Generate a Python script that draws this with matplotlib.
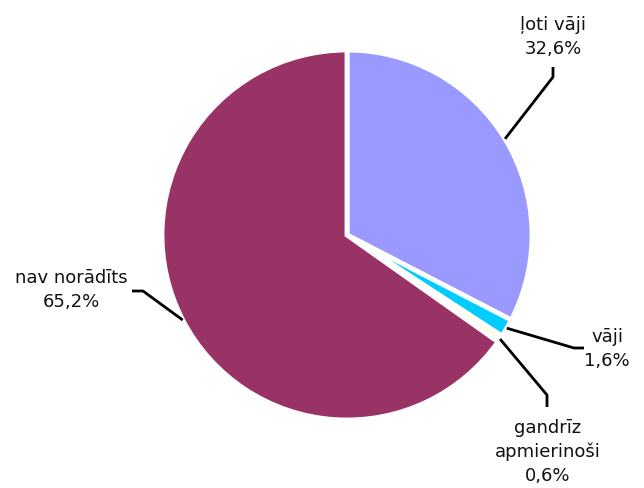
import numpy as np
import matplotlib.pyplot as plt

labels = ["ļoti vāji", "vāji", "gandrīz\napmierinoši", "nav norādīts"]
values = [32.6, 1.6, 0.6, 65.2]
pct_text = ["32,6%", "1,6%", "0,6%", "65,2%"]
colors = ["#9999FF", "#00CCFF", "#FFFFCC", "#993366"]

W, H = 644, 489
cx, cy, R = 347, H - 236, 185

# label anchor (elbow) and text positions, in pixel coords (y up)
elbows = [(553, H - 78), (574, H - 349), (547, H - 396), (143, H - 292)]
ends = [(553, H - 68), (584, H - 349), (547, H - 408), (132, H - 292)]
text_pos = [(553, H - 37), (607, H - 349), (548, H - 452), (71, H - 290)]

fig = plt.figure(figsize=(W / 100, H / 100), dpi=100)
ax = fig.add_axes([0, 0, 1, 1])

wedges, _ = ax.pie(values, colors=colors, startangle=90, counterclock=False,
                   center=(cx, cy), radius=R,
                   wedgeprops=dict(edgecolor="white", linewidth=3.5))

ax.set_xlim(0, W)
ax.set_ylim(0, H)
ax.set_aspect("equal")
ax.axis("off")

for w, el, en, tp, lab, pc in zip(wedges, elbows, ends, text_pos, labels, pct_text):
    ang = np.deg2rad((w.theta1 + w.theta2) / 2)
    x0 = cx + R * np.cos(ang)
    y0 = cy + R * np.sin(ang)
    ax.plot([x0, el[0], en[0]], [y0, el[1], en[1]], color="black", lw=2,
            solid_capstyle="butt")
    ax.text(tp[0], tp[1], lab + "\n" + pc, ha="center", va="center",
            fontsize=13, family="DejaVu Sans", linespacing=1.4,
            color="#111111")

fig.savefig("out.png", dpi=100)
